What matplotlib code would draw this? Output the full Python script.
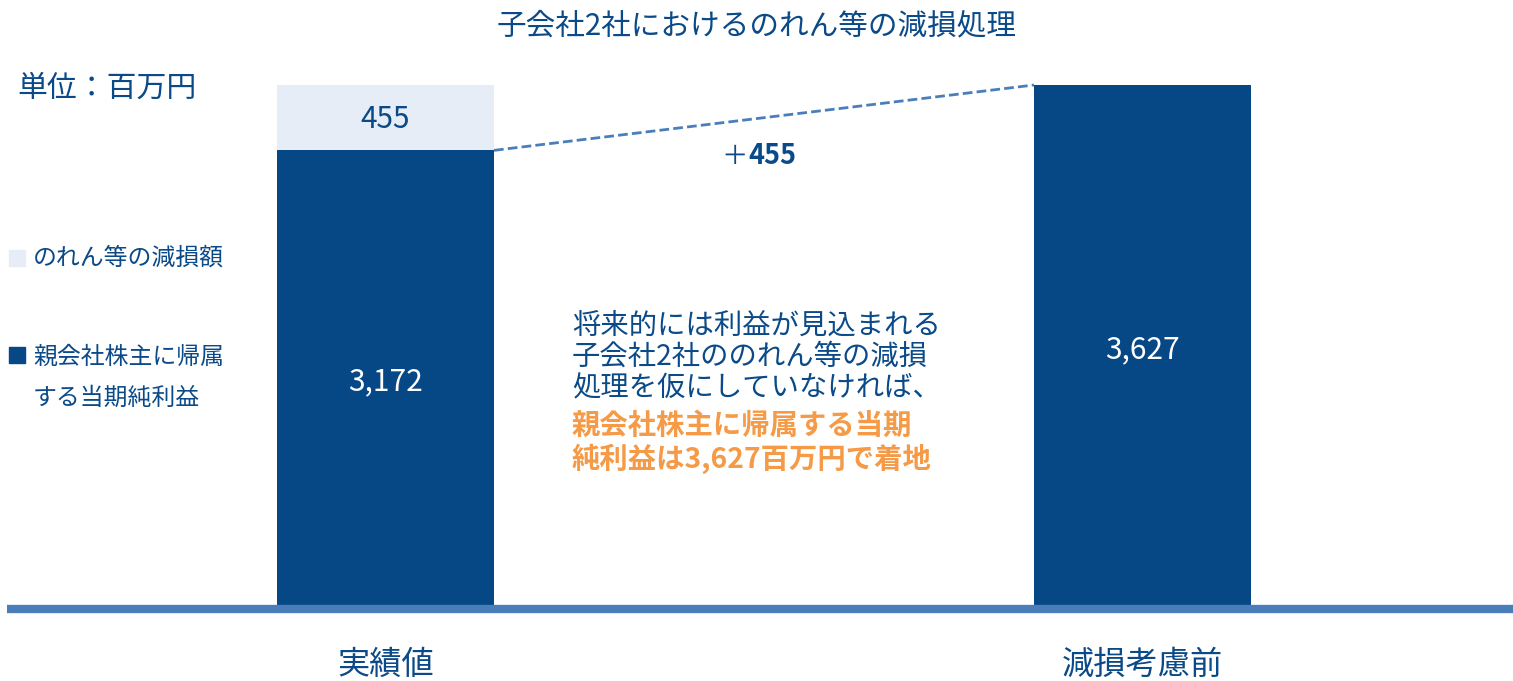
import matplotlib.pyplot as plt
from matplotlib.patches import Rectangle

plt.rcParams['font.family'] = ['Noto Sans CJK JP', 'DejaVu Sans']

# データ(単位:百万円)
categories = ['実績値', '減損考慮前']
net_income = [3172, 3627]
impairment = [455, 0]
legend_labels = ['のれん等の減損額', '親会社株主に帰属\nする当期純利益']

title = '子会社2社におけるのれん等の減損処理'
unit = '単位：百万円'
note_blue = '将来的には利益が見込まれる\n子会社2社ののれん等の減損\n処理を仮にしていなければ、'
note_orange = '親会社株主に帰属する当期\n純利益は3,627百万円で着地'

# 色
dark = '#064886'
light = '#e6edf6'
line_blue = '#4a7ebb'
text_blue = '#0b4a88'
orange = '#f59a46'

W, H = 1513, 681
fig = plt.figure(figsize=(W / 100, H / 100), dpi=100)


def px(x, y):
    return x / W, 1 - y / H


# 軸は基準線 (y=606px) から上、x は 7px から右端まで
base_y = 606
scale = (606 - 85) / 3627
ax = fig.add_axes([7 / W, 1 - base_y / H, (W - 7) / W, base_y / H])
bar_w = 217 / 757
ax.set_xlim(-0.5, 1 + (W - 1142.5) / 757)
ax.set_ylim(0, base_y / scale)
ax.axis('off')

x = [0, 1]
ax.bar(x, net_income, width=bar_w, color=dark, zorder=2)
ax.bar(x, impairment, width=bar_w, bottom=net_income, color=light, zorder=2)
ax.axhline(-3 / scale, color=line_blue, linewidth=6, zorder=3, clip_on=False,
           solid_capstyle='butt')

# 減損前との差分を結ぶ破線
ax.plot([bar_w / 2, 1 - bar_w / 2], [net_income[0], net_income[1]],
        color=line_blue, linewidth=2, linestyle=(0, (3.5, 1.5)), zorder=2)

# 値ラベル
lab_off = 4 / scale
ax.text(0, net_income[0] / 2 - lab_off, f'{net_income[0]:,}', ha='center',
        va='center', color='white', fontsize=21.5)
ax.text(1, net_income[1] / 2 - lab_off, f'{net_income[1]:,}', ha='center',
        va='center', color='white', fontsize=21.5)
ax.text(0, net_income[0] + impairment[0] / 2 - 2 / scale, f'{impairment[0]:,}',
        ha='center', va='center', color=text_blue, fontsize=21.5)
diff = net_income[1] - net_income[0]
ax.text(0.479, net_income[0] - 40, '＋', ha='right', va='center',
        color=text_blue, fontsize=19)
ax.text(0.479, net_income[0] - 40, f'{diff:,}', ha='left', va='center',
        color=text_blue, fontsize=19.5, fontweight='bold')

# タイトル・単位
fig.text(*px(757, 26), title, ha='center', va='center', color=text_blue, fontsize=21.3)
fig.text(*px(17, 88), unit, ha='left', va='center', color=text_blue, fontsize=21.5)

# 凡例
for (cy, col), lab, ty in zip([(258, light), (355, dark)], legend_labels, [258, 378]):
    fig.patches.append(Rectangle(px(9, cy + 8), 16 / W, 16 / H, color=col,
                                 transform=fig.transFigure))
    fig.text(*px(33, ty), lab, ha='left', va='center', color=text_blue,
             fontsize=17.2, linespacing=2.0)

# 注記
fig.text(*px(572, 357), note_blue, ha='left', va='center', color=text_blue,
         fontsize=20.4, linespacing=1.07)
fig.text(*px(572, 443), note_orange, ha='left', va='center', color=orange,
         fontsize=20.4, fontweight='bold', linespacing=1.14)

# カテゴリ名
for xc, cat in zip([385.5, 1142.5], categories):
    fig.text(*px(xc, 665), cat, ha='center', va='center', color=text_blue, fontsize=23.2)

fig.savefig('out.png', dpi=100)
plt.close(fig)
